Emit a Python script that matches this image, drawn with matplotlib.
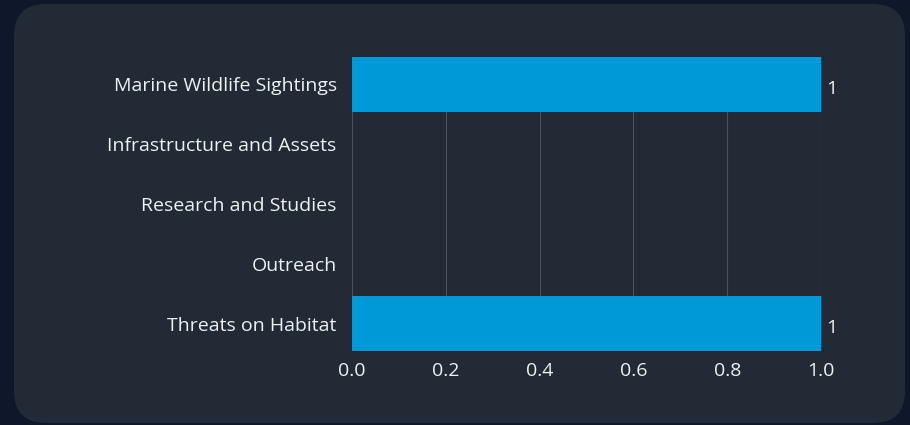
import matplotlib.pyplot as plt
from matplotlib.patches import FancyBboxPatch
from matplotlib.transforms import IdentityTransform

categories = ["Marine Wildlife Sightings", "Infrastructure and Assets",
              "Research and Studies", "Outreach", "Threats on Habitat"]
values = [1, 0, 0, 0, 1]
x_ticks = [0.0, 0.2, 0.4, 0.6, 0.8, 1.0]

plt.rcParams['font.family'] = ['Open Sans', 'DejaVu Sans']

fig = plt.figure(figsize=(9.1, 4.25), dpi=100)
fig.patch.set_facecolor('#0f172a')

# rounded card behind the chart (pixel coords, origin bottom-left)
card = FancyBboxPatch((14, 2), 891, 419,
                      boxstyle="round,pad=0,rounding_size=32",
                      transform=IdentityTransform(), facecolor='#212a35',
                      edgecolor='none', zorder=-5)
fig.patches.append(card)

ax = fig.add_axes([352 / 910, 1 - 351 / 425, 469 / 910, 294 / 425])
ax.set_facecolor('none')

bar_h = 0.92
y = list(range(len(categories)))
bars = ax.barh(y, values, height=bar_h, color='#0099d8', zorder=3)
ax.set_ylim(len(categories) - 1 + bar_h / 2, -bar_h / 2)
ax.set_xlim(0, 1.0)

ax.set_yticks(y)
ax.set_yticklabels(categories)
ax.set_xticks(x_ticks)
ax.set_xticklabels([f"{t:.1f}" for t in x_ticks])
ax.tick_params(axis='both', length=0, colors='#eef0f2', labelsize=14)
ax.tick_params(axis='y', pad=11)
ax.tick_params(axis='x', pad=8)

ax.grid(axis='x', color='#4b525b', linewidth=0.8, zorder=1)
ax.set_axisbelow(True)
for s in ax.spines.values():
    s.set_visible(False)

for bar, v in zip(bars, values):
    if v:
        ax.text(v + 0.01, bar.get_y() + bar.get_height() / 2 + 0.07, str(v),
                va='center', ha='left', color='#eef0f2', fontsize=14)

fig.savefig('out.png', dpi=100, facecolor=fig.get_facecolor())
